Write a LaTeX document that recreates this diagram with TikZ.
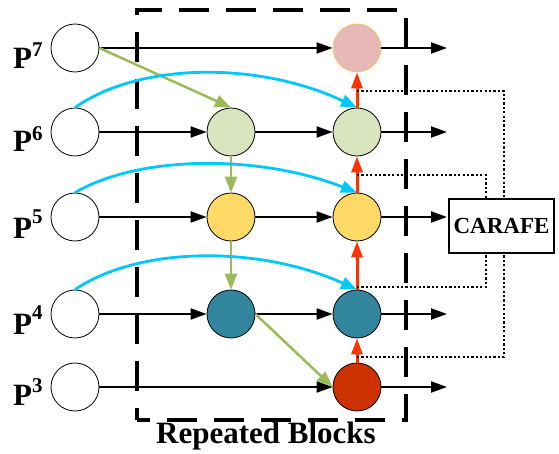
\documentclass[tikz,border=0pt]{standalone}
\usepackage{fontspec}
\setmainfont{Liberation Serif}
\usetikzlibrary{arrows.meta}

\definecolor{cpink}{HTML}{E6B9B8}
\definecolor{cpinkline}{HTML}{F6C86A}
\definecolor{cgreen}{HTML}{D7E4BD}
\definecolor{cyellow}{HTML}{FFD966}
\definecolor{cteal}{HTML}{31859C}
\definecolor{cred}{HTML}{CC3300}
\definecolor{garrow}{HTML}{9BBB59}
\definecolor{carrow}{HTML}{00C8FA}
\definecolor{rarrow}{HTML}{FF3300}

\newcommand{\plabel}[2]{\textbf{P\raisebox{#2}{\fontsize{21}{21}\selectfont #1}}}

\begin{document}
\begin{tikzpicture}[x=1pt,y=-1pt,
  feat/.style={circle,draw=black,line width=0.8pt,minimum size=48pt,inner sep=0pt},
  flow/.style={line width=2pt,-{Triangle[length=16pt,width=11pt]}},
  topdown/.style={draw=garrow,line width=2.5pt,-{Triangle[length=16pt,width=12pt]}},
  skip/.style={draw=carrow,line width=2.8pt,-{Triangle[length=16pt,width=12pt]}},
  upsamp/.style={draw=rarrow,line width=3pt,-{Triangle[length=16pt,width=11pt]}},
  feed/.style={line width=1.3pt,dash pattern=on 2.2pt off 2.2pt},
  lvl/.style={anchor=base west,inner sep=0pt,font=\fontsize{31}{31}\selectfont},
  blockbox/.style={line width=3.5pt,dash pattern=on 30pt off 17pt,dash phase=18pt}
]
\useasboundingbox (0,0) rectangle (559,454);

% repeated block frame
\draw[blockbox] (137,420) -- (137,10) -- (406,10) -- (406,420) -- cycle;
\node[font=\bfseries\fontsize{31}{31}\selectfont,inner sep=0pt] (title) at (266,436) {Repeated Blocks};

% input levels
\node[feat] (l7) at (75,48) {};
\node[feat] (l6) at (75,132) {};
\node[feat] (l5) at (75,217) {};
\node[feat] (l4) at (75,314) {};
\node[feat] (l3) at (75,387) {};

\node[lvl] (p7) at (13,69) {\plabel{7}{12pt}};
\node[lvl] (p6) at (13,152) {\plabel{6}{11pt}};
\node[lvl] (p5) at (13,239) {\plabel{5}{15pt}};
\node[lvl] (p4) at (13,334) {\plabel{4}{15pt}};
\node[lvl] (p3) at (13,405) {\plabel{3}{13pt}};

% top-down path
\node[feat,fill=cgreen] (m6) at (231,132) {};
\node[feat,fill=cyellow] (m5) at (231,217) {};
\node[feat,fill=cteal] (m4) at (231,314) {};

% bottom-up path
\node[feat,fill=cpink,draw=cpinkline] (r7) at (357,48) {};
\node[feat,fill=cgreen] (r6) at (357,132) {};
\node[feat,fill=cyellow] (r5) at (357,217) {};
\node[feat,fill=cteal] (r4) at (357,314) {};
\node[feat,fill=cred] (r3) at (357,387) {};

% outputs
\coordinate (o7) at (447,48);
\coordinate (o6) at (447,132);
\coordinate (o5) at (447,217);
\coordinate (o4) at (447,314);
\coordinate (o3) at (447,387);

\node[draw,line width=1.5pt,minimum width=105pt,minimum height=54pt,inner sep=0pt,
      font=\bfseries\fontsize{23}{23}\selectfont] (carafe) at (501.5,226) {CARAFE};

% lateral flows
\draw[flow] (l7.east) -- (r7.west);
\draw[flow] (r7.east) -- (o7);
\draw[flow] (l6.east) -- (m6.west);
\draw[flow] (m6.east) -- (r6.west);
\draw[flow] (r6.east) -- (o6);
\draw[flow] (l5.east) -- (m5.west);
\draw[flow] (m5.east) -- (r5.west);
\draw[flow] (r5.east) -- (o5);
\draw[flow] (l4.east) -- (m4.west);
\draw[flow] (m4.east) -- (r4.west);
\draw[flow] (r4.east) -- (o4);
\draw[flow] (l3.east) -- (r3.west);
\draw[flow] (r3.east) -- (o3);

% top-down arrows
\draw[topdown] (l7.east) -- (m6.north);
\draw[topdown] (m6.south) -- (m5.north);
\draw[topdown] (m5.south) -- (m4.north);
\draw[topdown] (m4.east) -- (r3.west);

% skip connections
\draw[skip] (l6.north) .. controls +(65,-46) and +(-97,-46) .. (r6.north);
\draw[skip] (l5.north) .. controls +(65,-38) and +(-97,-38) .. (r5.north);
\draw[skip] (l4.north) .. controls +(65,-44) and +(-97,-44) .. (r4.north);

% bottom-up arrows
\draw[upsamp] (r3.north) -- (r4.south);
\draw[upsamp] (r4.north) -- (r5.south);
\draw[upsamp] (r5.north) -- (r6.south);
\draw[upsamp] (r6.north) -- (r7.south);

% CARAFE feeds
\coordinate (t7) at (357,91);
\coordinate (t6) at (357,175);
\coordinate (t5) at (357,287);
\coordinate (t4) at (357,357);
\draw[feed] (t7) -| ([xshift=2.5pt]carafe.north);
\draw[feed] (t6) -| ([xshift=-15.5pt]carafe.north);
\draw[feed] (t5) -| ([xshift=-15.5pt]carafe.south);
\draw[feed] (t4) -| ([xshift=2.5pt]carafe.south);
\end{tikzpicture}
\end{document}
